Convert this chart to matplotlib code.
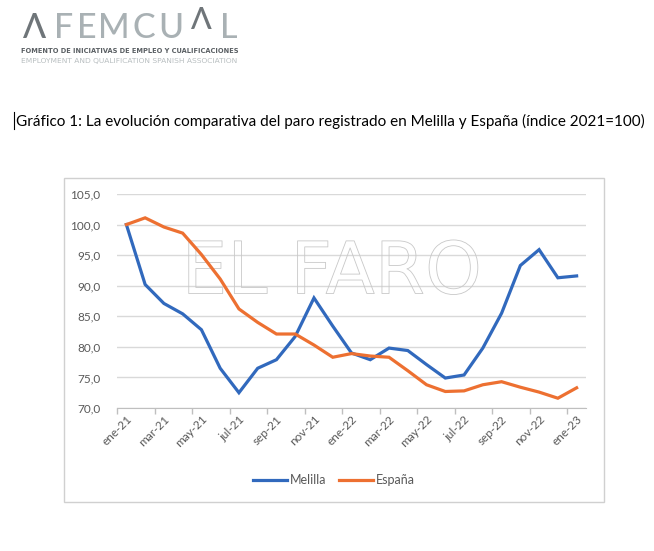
import matplotlib
matplotlib.use("Agg")
import matplotlib.pyplot as plt
from matplotlib.lines import Line2D
from matplotlib.patches import Rectangle
import matplotlib.patheffects as pe

# datos (indice 2021=100)
meses = ["ene-21", "feb-21", "mar-21", "abr-21", "may-21", "jun-21", "jul-21", "ago-21",
         "sep-21", "oct-21", "nov-21", "dic-21", "ene-22", "feb-22", "mar-22", "abr-22",
         "may-22", "jun-22", "jul-22", "ago-22", "sep-22", "oct-22", "nov-22", "dic-22",
         "ene-23"]
melilla = [100.0, 90.2, 87.1, 85.4, 82.8, 76.5, 72.5, 76.5, 77.9, 81.7, 88.0, 83.4,
           79.0, 77.9, 79.8, 79.4, 77.1, 74.9, 75.4, 79.8, 85.5, 93.3, 95.9, 91.3, 91.6]
espana = [100.0, 101.1, 99.6, 98.6, 95.1, 91.1, 86.2, 84.0, 82.1, 82.1, 80.3, 78.3,
          78.9, 78.5, 78.3, 76.1, 73.8, 72.7, 72.8, 73.8, 74.3, 73.4, 72.6, 71.6, 73.3]
yticks = [70, 75, 80, 85, 90, 95, 100, 105]

W, H = 654, 551
fig = plt.figure(figsize=(W / 100, H / 100), dpi=100)
fnt = "Lato"

def fx(px):
    return px / W

def fy(py):
    return 1 - py / H

# logo
letras = [("Λ", 35, "#6f7579"), ("F", 64, "#a9b1b4"), ("E", 87, "#a9b1b4"),
          ("M", 114, "#a9b1b4"), ("C", 144, "#a9b1b4"), ("U", 171, "#a9b1b4"),
          ("L", 229, "#a9b1b4")]
for ch, x, c in letras:
    fig.text(fx(x), fy(37.5), ch, ha="center", va="baseline", fontsize=24.5,
             color=c, family=fnt, weight="medium")
fig.text(fx(201), fy(29), "Λ", ha="center", va="baseline", fontsize=22,
         color="#6f7579", family=fnt, weight="medium")
fig.text(fx(21), fy(53), "FOMENTO DE INICIATIVAS DE EMPLEO Y CUALIFICACIONES",
         fontsize=4.8, color="#5a5f63", family="DejaVu Sans", weight="bold",
         va="baseline")
fig.text(fx(21), fy(63), "EMPLOYMENT AND QUALIFICATION SPANISH ASSOCIATION",
         fontsize=5.4, color="#b8bec0", family="DejaVu Sans", va="baseline")

# titulo
fig.add_artist(Line2D([fx(14), fx(14)], [fy(112), fy(129)], color="black", lw=0.8))
fig.text(fx(16), fy(121), "Gráfico 1: La evolución comparativa del paro registrado en Melilla y España (índice 2021=100)",
         fontsize=10.95, family=fnt, va="center", ha="left")

# marco del grafico
fig.add_artist(Rectangle((fx(64), fy(502)), fx(604) - fx(64), fy(178) - fy(502),
                         transform=fig.transFigure, fill=False,
                         edgecolor="#d0d0d0", lw=1))

ax = fig.add_axes([fx(117), fy(408), fx(586) - fx(117), fy(194) - fy(408)])
x = list(range(len(meses)))
ax.plot(x, melilla, color="#3169bd", lw=2.3, label="Melilla", zorder=3, solid_joinstyle="miter")
ax.plot(x, espana, color="#ed7031", lw=2.3, label="España", zorder=3, solid_joinstyle="miter")

ax.set_xlim(-0.5, len(meses) - 0.5)
ax.set_ylim(70, 105)
ax.set_yticks(yticks)
ax.set_yticklabels([f"{v:.1f}".replace(".", ",") for v in yticks],
                   fontsize=8.5, color="#595959", family=fnt)
ax.tick_params(axis="y", length=0, pad=12)
ax.yaxis.grid(True, color="#d9d9d9", lw=1)
ax.set_axisbelow(True)

ax.set_xticks([i - 0.5 for i in range(0, len(meses) + 1, 2)])
ax.set_xticklabels([])
ax.tick_params(axis="x", which="major", length=4, color="#bfbfbf", width=1)
ax.set_xticks(x[::2], minor=True)
ax.set_xticklabels(meses[::2], minor=True, rotation=45, ha="right",
                   rotation_mode="anchor", fontsize=8.5, color="#595959", family=fnt)
ax.tick_params(axis="x", which="minor", length=0, pad=4)

for s in ["top", "right", "left"]:
    ax.spines[s].set_visible(False)
ax.spines["bottom"].set_color("#bfbfbf")

# marca de agua
ax.text(0.458, 0.626, "EL FARO", transform=ax.transAxes, ha="center", va="center",
        fontsize=52, color="none", family="DejaVu Sans", zorder=1,
        path_effects=[pe.withStroke(linewidth=0.6, foreground="#c8c8c8")])

fig.legend(loc="center", bbox_to_anchor=(fx(334), fy(480)), ncol=2, frameon=False,
           handlelength=2.7, handletextpad=0.25, columnspacing=1.0,
           prop={"family": fnt, "size": 9}, labelcolor="#595959")

fig.savefig("out.png", dpi=100)
